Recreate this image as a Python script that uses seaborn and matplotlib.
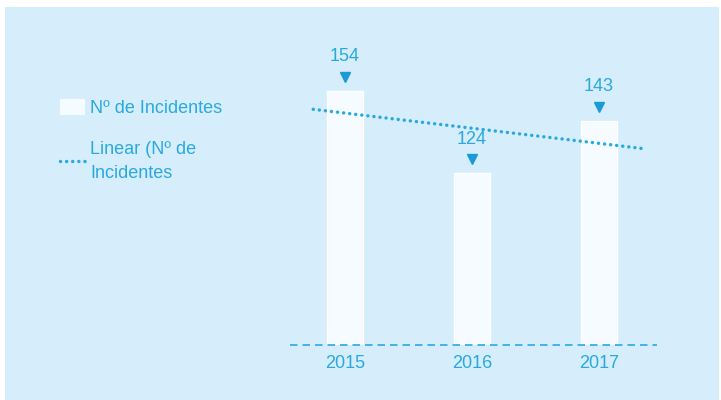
import numpy as np
import pandas as pd
import matplotlib
matplotlib.use("Agg")
import matplotlib.pyplot as plt
from matplotlib.patches import Rectangle, Patch
from matplotlib.lines import Line2D
from matplotlib.transforms import offset_copy
import seaborn as sns

# Data
years = ["2015", "2016", "2017"]
incidents = [154, 124, 143]
bar_label = "Nº de Incidentes"
trend_label = "Linear (Nº de\nIncidentes"

panel_bg = "#d6eefb"
bar_color = "#f5fbff"
accent = "#2aa9e0"
marker_color = "#1a9bd8"

sns.set_theme(style="white")
plt.rcParams["font.family"] = ["Liberation Sans", "DejaVu Sans"]

W, H = 721, 400
fig = plt.figure(figsize=(W / 100, H / 100), dpi=100, facecolor="white")
fig.patches.append(Rectangle((5 / W, 0), 714 / W, 393 / H, transform=fig.transFigure,
                             facecolor=panel_bg, edgecolor="none", zorder=-5))

ax = fig.add_axes([290 / W, 55 / H, 367 / W, 315 / H])
ax.set_facecolor("none")

df = pd.DataFrame({"year": years, "incidents": incidents})
sns.barplot(data=df, x="year", y="incidents", color=bar_color, width=0.29,
            saturation=1, ax=ax, zorder=2)

# Linear trendline fitted to the yearly counts
dot_dashes = (0.01, 1.75)
xs = np.arange(len(incidents))
slope, intercept = np.polyfit(xs, incidents, 1)
tx = np.array([-0.25, 2.37])
sns.lineplot(x=tx, y=intercept + slope * tx, ax=ax, color=accent, lw=2.5,
             zorder=3)
trend = ax.lines[-1]
trend.set_dashes(dot_dashes)
trend.set_dash_capstyle("round")

ax.set_xlim(-0.433, 2.457)
ax.set_ylim(61.5, 176.05)

# Value labels with pointer triangles
tri_tr = offset_copy(ax.transData, fig=fig, x=0, y=14, units="dots")
for i, v in enumerate(incidents):
    ax.plot([i], [v], marker="v", ms=6.5, color=marker_color, ls="none",
            zorder=4, transform=tri_tr, clip_on=False)
    ax.annotate(str(v), xy=(i, v), xytext=(0, 34 * 0.72), textcoords="offset points",
                ha="center", va="center", fontsize=13, color=accent)

ax.axhline(61.5, color=accent, lw=1.2, ls=(0, (4.5, 3)), clip_on=False, zorder=5)

sns.despine(ax=ax, left=True, bottom=True)
ax.set_yticks([])
ax.set_xlabel("")
ax.set_ylabel("")
ax.tick_params(axis="x", length=0, pad=7, labelsize=13, labelcolor=accent)

handles = [
    Patch(facecolor=bar_color, edgecolor="none"),
    Line2D([0], [0], color=accent, lw=2.5, dashes=dot_dashes, dash_capstyle="round"),
]
leg = fig.legend(handles, [bar_label, trend_label], loc="upper left",
                 bbox_to_anchor=(44 / W, 1 - 83 / H), frameon=False,
                 fontsize=13, handlelength=1.35, handleheight=0.95,
                 handletextpad=0.3, labelspacing=1.3)
for t in leg.get_texts():
    t.set_color(accent)
    t.set_linespacing(1.55)

fig.savefig("out.png", dpi=100, facecolor="white")
